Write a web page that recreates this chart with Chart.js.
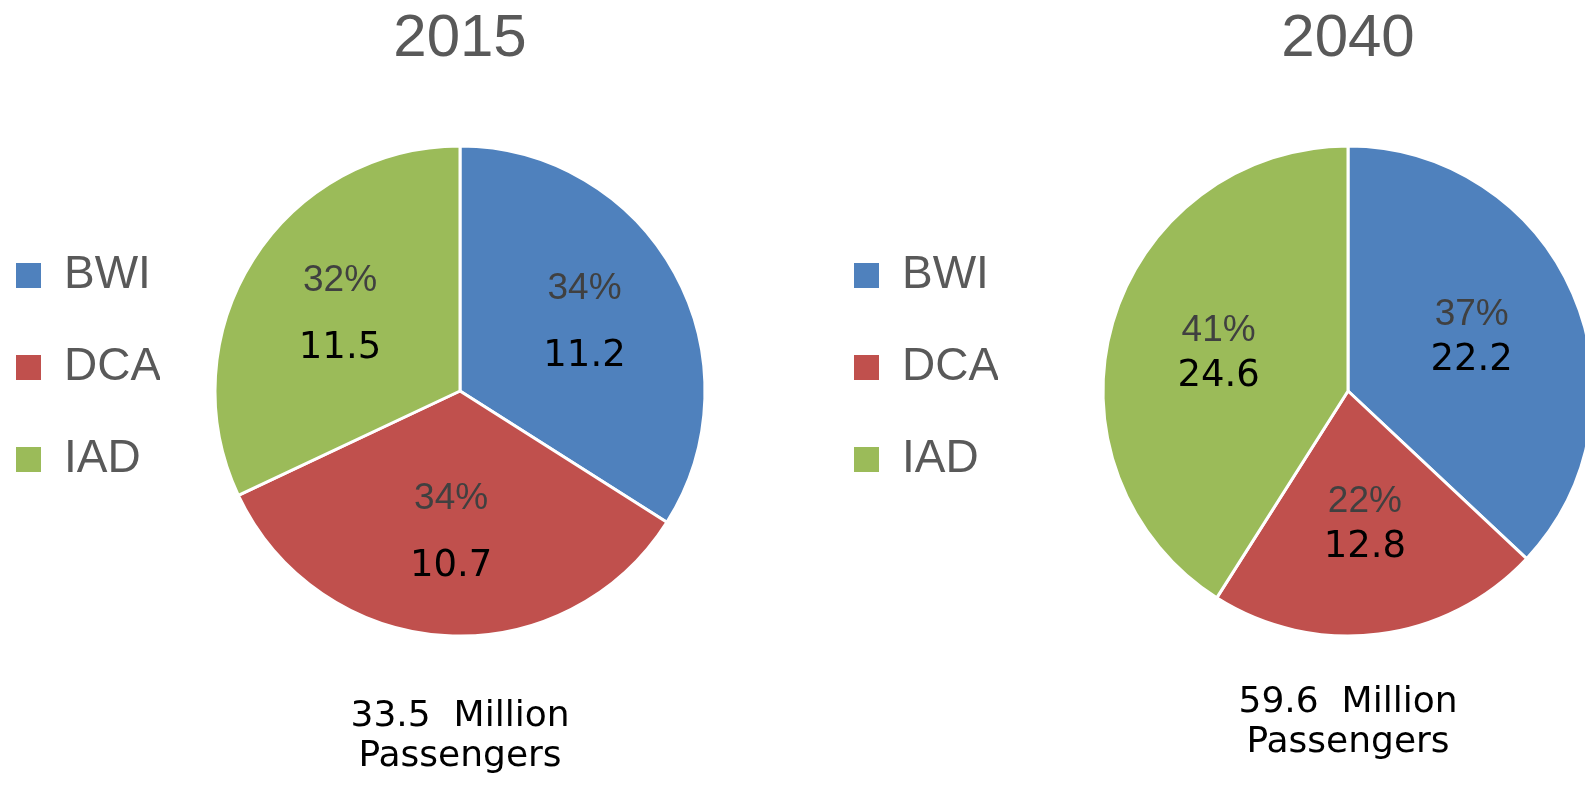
<!DOCTYPE html>
<html>
<head>
<meta charset="utf-8">
<script src="https://cdn.jsdelivr.net/npm/chart.js@4.4.1/dist/chart.umd.min.js"></script>
<style>
	html, body {
		margin: 0;
		padding: 0;
		background: #fff;
	}
	body {
		position: relative;
		width: 1585px;
		height: 785px;
		overflow: hidden;
	}
	canvas {
		position: absolute;
		top: -50px;
	}
	#pie-2015 { left: -30px; }
	#pie-2040 { left: 808px; }
</style>
</head>
<body>
<canvas id="pie-2015" width="800" height="835"></canvas>
<canvas id="pie-2040" width="900" height="835"></canvas>
<script>
const airports = ['BWI', 'DCA', 'IAD'];
const colors = ['#4F81BD', '#C0504D', '#9BBB59'];

const years = ['2015', '2040'];
const share2015 = [34, 34, 32];
const share2040 = [37, 22, 41];
const passengers2015 = [11.2, 10.7, 11.5];
const passengers2040 = [22.2, 12.8, 24.6];
const totals = ['33.5', '59.6'];

// percent + value written inside each slice
const sliceLabels = {
	id: 'sliceLabels',
	afterDatasetsDraw(chart, args, opts) {
		const ctx = chart.ctx
		const ds = chart.data.datasets[0]
		chart.getDatasetMeta(0).data.forEach((arc, i) => {
			const mid = (arc.startAngle + arc.endAngle) / 2
			const r = arc.outerRadius * opts.radius
			const x = arc.x + Math.cos(mid) * r
			const y = arc.y + Math.sin(mid) * r
			ctx.save()
			ctx.textAlign = 'center'
			ctx.textBaseline = 'middle'
			ctx.font = '37px "Liberation Sans"'
			ctx.fillStyle = '#404040'
			ctx.fillText(ds.data[i] + '%', x, y - opts.gap / 2)
			ctx.font = '37px "DejaVu Sans"'
			ctx.fillStyle = '#000'
			ctx.fillText(ds.passengers[i].toFixed(1), x, y + opts.gap / 2)
			ctx.restore()
		})
	}
}

function makePie(id, year, shares, passengers, total, cfg) {
	const ctx = document.getElementById(id).getContext('2d')
	return new Chart(ctx, {
		type: 'pie',
		data: {
			labels: airports,
			datasets: [{
				data: shares,
				passengers: passengers,
				backgroundColor: colors,
				borderColor: '#fff',
				borderWidth: 3,
				radius: 245,
				clip: false
			}]
		},
		plugins: [sliceLabels],
		options: {
			responsive: false,
			animation: false,
			events: [],
			layout: {
				padding: { right: 10 }
			},
			plugins: {
				tooltip: { enabled: false },
				title: {
					display: true,
					text: year,
					fullSize: false,
					color: '#595959',
					font: { family: 'Liberation Sans', size: 60, weight: 'normal', lineHeight: 1.2 },
					padding: { top: 53, bottom: cfg.titleBottom }
				},
				subtitle: {
					display: true,
					position: 'bottom',
					fullSize: false,
					text: [total + '  Million', 'Passengers'],
					color: '#000',
					font: { family: 'DejaVu Sans', size: 36, lineHeight: '40px' },
					padding: { top: 1.4, bottom: cfg.subBottom }
				},
				legend: {
					position: 'left',
					maxWidth: 190,
					labels: {
						boxWidth: 25,
						boxHeight: 25,
						padding: 46,
						color: '#595959',
						font: { family: 'Liberation Sans', size: 46 },
						generateLabels: chart =>
							Chart.overrides.pie.plugins.legend.labels.generateLabels(chart)
								.map(l => ({ ...l, lineWidth: 0 }))
					}
				},
				sliceLabels: cfg.labels
			}
		}
	})
}

makePie('pie-2015', years[0], share2015, passengers2015, totals[0], {
	titleBottom: 11.4, subBottom: 8,
	labels: { radius: 0.58, gap: 68 }
})
makePie('pie-2040', years[1], share2040, passengers2040, totals[1], {
	titleBottom: 25.4, subBottom: 22,
	labels: { radius: 0.55, gap: 46 }
})
</script>
</body>
</html>
